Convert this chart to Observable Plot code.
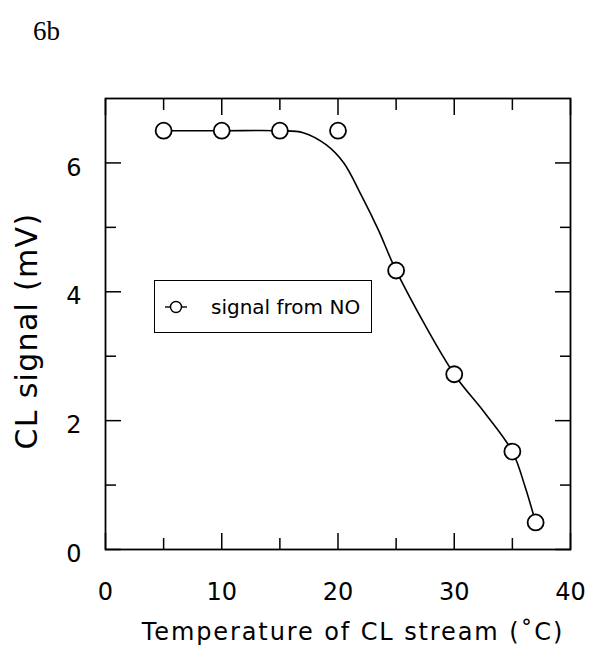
<!DOCTYPE html>
<html><head><meta charset="utf-8">
<script src="https://cdn.jsdelivr.net/npm/d3@7"></script>
<script src="https://cdn.jsdelivr.net/npm/@observablehq/plot@0.6"></script>
<style>
body{margin:0;background:#fff;}
#wrap{position:relative;width:589px;height:658px;overflow:hidden;}
#fig{position:absolute;left:33px;top:16px;font-family:"Liberation Serif",serif;font-size:27px;color:#000;}
#legend{position:absolute;left:154px;top:280px;width:218px;height:53px;box-sizing:border-box;border:1.5px solid #000;background:#fff;font-family:"DejaVu Sans",sans-serif;font-size:20px;display:flex;align-items:center;}
#legend svg{margin-left:10px;margin-right:24px;}
.xt text{letter-spacing:1.9px;}
.yt text{letter-spacing:1.3px;}
</style></head><body>
<div id="wrap">
<div id="chart"></div>
<div id="fig">6b</div>
<div id="legend"><svg width="22" height="16"><line x1="0" y1="8" x2="22" y2="8" stroke="#000" stroke-width="1.4"/><circle cx="11" cy="8" r="5.5" fill="#fff" stroke="#000" stroke-width="1.4"/></svg><span id="legtext"></span></div>
</div>
<script>
// measured points
const temps = [5, 10, 15, 20, 25, 30, 35, 37];
const signal = [6.5, 6.5, 6.5, 6.5, 4.33, 2.72, 1.52, 0.42];
// fitted curve
const curveT = [5, 10, 15, 17, 19, 20.5, 22, 23.5, 25, 30, 32.5, 35, 36.1, 37];
const curveS = [6.5, 6.5, 6.5, 6.47, 6.28, 6.0, 5.5, 4.95, 4.33, 2.72, 2.15, 1.52, 0.97, 0.42];
// ticks
const xMajor = [0, 10, 20, 30, 40];
const xMinor = [5, 15, 25, 35];
const yMajor = [0, 2, 4, 6];
const yMinor = [1, 3, 5];
const xTitle = "Temperature of CL stream (˚C)";
const yTitle = "CL signal (mV)";
const legendLabel = "signal from NO";

document.getElementById("legtext").textContent = legendLabel;

const pts = temps.map((t, i) => ({t, s: signal[i]}));
const crv = curveT.map((t, i) => ({t, s: curveS[i]}));
const font = "DejaVu Sans";
const noLab = () => "";
const tk = {tickFormat: noLab, stroke: "#000", strokeWidth: 1.5, label: null};

const chart = Plot.plot({
  width: 589, height: 658,
  marginLeft: 105, marginRight: 19, marginTop: 98, marginBottom: 109,
  x: {domain: [0, 40]},
  y: {domain: [0, 7]},
  style: {fontFamily: font, color: "#000", background: "#fff"},
  marks: [
    Plot.axisX(xMajor, {anchor: "bottom", tickSize: -16, ...tk}),
    Plot.axisX(xMinor, {anchor: "bottom", tickSize: -11, ...tk}),
    Plot.axisX(xMajor, {anchor: "top", tickSize: -16, ...tk}),
    Plot.axisX(xMinor, {anchor: "top", tickSize: -11, ...tk}),
    Plot.axisY(yMajor, {anchor: "left", tickSize: -16, ...tk}),
    Plot.axisY(yMinor, {anchor: "left", tickSize: -11, ...tk}),
    Plot.axisY(yMajor, {anchor: "right", tickSize: -16, ...tk}),
    Plot.axisY(yMinor, {anchor: "right", tickSize: -11, ...tk}),
    Plot.axisX(xMajor, {anchor: "bottom", tickSize: 0, tickPadding: 33, fontSize: 24, fontFamily: font, tickFormat: d3.format("d"), label: null}),
    Plot.axisY(yMajor, {anchor: "left", tickSize: 0, tickPadding: 24, fontSize: 24, fontFamily: font, dy: 5, tickFormat: d3.format("d"), label: null}),
    Plot.frame({stroke: "#000", strokeWidth: 1.8}),
    Plot.line(crv, {x: "t", y: "s", curve: "catmull-rom", stroke: "#000", strokeWidth: 1.6}),
    Plot.dot(pts, {x: "t", y: "s", r: 8, fill: "#fff", stroke: "#000", strokeWidth: 1.8}),
    Plot.text([xTitle], {frameAnchor: "bottom", dx: 15, dy: 83, lineAnchor: "middle", fontSize: 24, fontFamily: font, fill: "#000", className: "xt"}),
    Plot.text([yTitle], {frameAnchor: "left", textAnchor: "middle", rotate: -90, dx: -78, dy: 7, lineAnchor: "middle", fontSize: 30, fontFamily: font, fill: "#000", className: "yt"})
  ]
});
document.getElementById("chart").appendChild(chart);
</script>
</body></html>
